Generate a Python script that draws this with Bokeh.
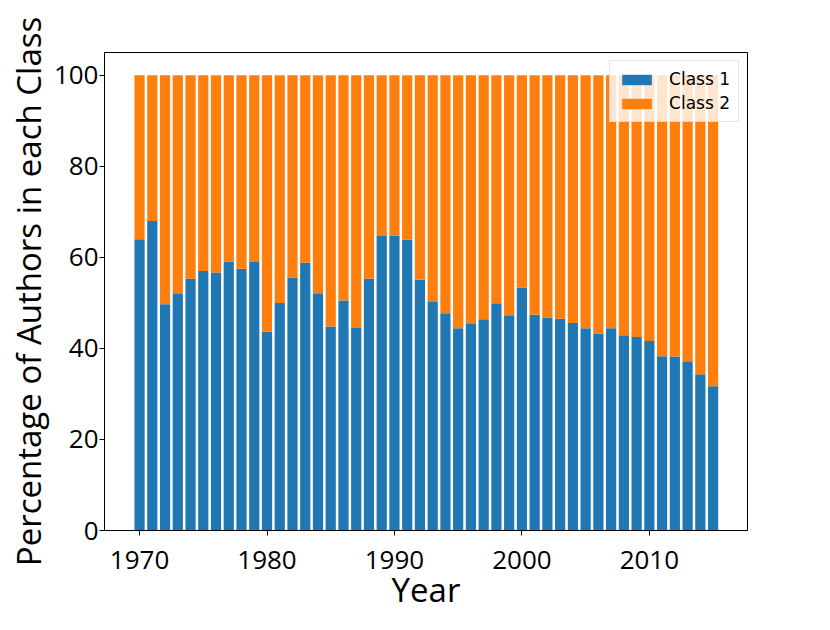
from bokeh.plotting import figure
from bokeh.models import ColumnDataSource, Range1d, FixedTicker, Legend, LegendItem
from bokeh.embed import file_html
from bokeh.resources import INLINE

years = list(range(1970, 2016))
class1 = [64.0, 68.0, 49.7, 52.1, 55.3, 57.0, 56.7, 59.1, 57.5, 59.0,
          43.7, 50.0, 55.6, 58.8, 52.1, 44.8, 50.5, 44.5, 55.3, 64.7,
          64.8, 63.9, 55.1, 50.2, 47.7, 44.4, 45.5, 46.4, 49.9, 47.3,
          53.4, 47.4, 46.8, 46.5, 45.6, 44.4, 43.3, 44.4, 42.9, 42.5,
          41.6, 38.3, 38.2, 37.2, 34.3, 31.7]
class2 = [100.0 - v for v in class1]
x_ticks = [1970, 1980, 1990, 2000, 2010]
y_ticks = [0, 20, 40, 60, 80, 100]

src = ColumnDataSource(dict(year=years, c1=class1, c2=class2))

p = figure(width=814, height=614, output_backend="svg", toolbar_location=None,
           x_range=Range1d(1967.25, 2017.7), y_range=Range1d(0, 105),
           min_border_left=104, min_border_right=67, min_border_top=52, min_border_bottom=83)

r = p.vbar_stack(["c1", "c2"], x="year", width=0.8, source=src,
                 color=["#1f77b4", "#ff7f0e"], line_color=None)

p.xgrid.visible = False
p.ygrid.visible = False
p.outline_line_color = "black"
p.outline_line_width = 1
p.background_fill_color = "white"
p.border_fill_color = "white"

p.xaxis.ticker = FixedTicker(ticks=x_ticks)
p.yaxis.ticker = FixedTicker(ticks=y_ticks)
for ax in (p.xaxis, p.yaxis):
    ax.axis_line_color = "black"
    ax.major_tick_line_color = "black"
    ax.major_tick_in = 0
    ax.major_tick_out = 5
    ax.minor_tick_line_color = None
    ax.major_label_text_font = "Open Sans"
    ax.major_label_text_font_size = "26px"
    ax.major_label_text_color = "black"
    ax.axis_label_text_font = "Open Sans"
    ax.axis_label_text_font_size = "33px"
    ax.axis_label_text_font_style = "normal"
    ax.axis_label_text_color = "black"

p.xaxis.axis_label = "Year"
p.yaxis.axis_label = "Percentage of Authors in each Class"
p.xaxis.major_label_standoff = 15
p.yaxis.major_label_standoff = 1
p.xaxis.axis_label_standoff = -5
p.yaxis.axis_label_standoff = 0

legend = Legend(items=[LegendItem(label="Class 1", renderers=[r[0]]),
                       LegendItem(label="Class 2", renderers=[r[1]])],
                location="top_right")
legend.label_text_font = "DejaVu Sans"
legend.label_text_font_size = "17px"
legend.label_text_color = "black"
legend.glyph_width = 37
legend.glyph_height = 13
legend.label_height = 20
legend.label_standoff = 14
legend.spacing = 4
legend.padding = 8
legend.margin = 8
legend.border_line_color = "#cccccc"
legend.border_line_width = 1
legend.background_fill_color = "white"
legend.background_fill_alpha = 0.8
p.add_layout(legend)

open("out.html", "w").write(file_html(p, INLINE))
